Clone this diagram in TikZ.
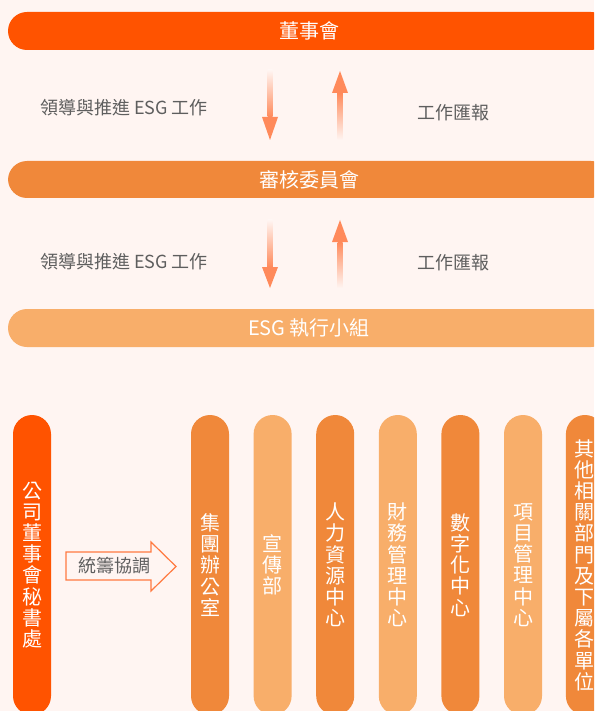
\documentclass[tikz,border=0pt]{standalone}
\usepackage{fontspec}
\setmainfont{Noto Sans CJK TC}
\usetikzlibrary{positioning}

\definecolor{bgc}{HTML}{FFF5F2}
\definecolor{deep}{HTML}{FF5300}
\definecolor{mid}{HTML}{F0883A}
\definecolor{soft}{HTML}{F8AE6A}
\definecolor{arrc}{HTML}{FF8A5B}
\definecolor{linec}{HTML}{FF7A40}
\definecolor{txtc}{HTML}{5E5E5E}

\begin{document}
\begin{tikzpicture}[x=1pt,y=-1pt,
  bar/.style={rectangle, rounded corners=19pt, minimum width=602pt,
              minimum height=38pt, inner sep=0pt, text=white,
              font=\fontsize{20}{24}\selectfont},
  column/.style={rectangle, rounded corners=19pt, minimum width=38pt,
                 minimum height=300pt, inner sep=0pt, text=white, align=center,
                 font=\fontsize{20}{21.2}\selectfont},
  lbl/.style={text=txtc, inner sep=0pt, font=\fontsize{18}{22}\selectfont}]
  \useasboundingbox (0,0) rectangle (594,711);
  \fill[bgc] (0,0) rectangle (594,711);
  \clip (0,0) rectangle (594,711);

  % three levels
  \node[bar, fill=deep] (board)  at (309,31)    {董事會};
  \node[bar, fill=mid, minimum height=37pt]
                        (audit)  at (309,179.5) {審核委員會};
  \node[bar, fill=soft] (esg)    at (309,328)   {ESG 執行小組};

  % labels between levels
  \node[lbl, anchor=west] (lead1) at (40,107.5) {領導與推進 ESG 工作};
  \node[lbl, anchor=west] (rep1)  at (417,112.5) {工作匯報};
  \node[lbl, anchor=west] (lead2) at (40,262)   {領導與推進 ESG 工作};
  \node[lbl, anchor=west] (rep2)  at (417,262.5) {工作匯報};

  % arrow points
  \coordinate (d1a) at (270,70);  \coordinate (d1b) at (270,117); \coordinate (d1c) at (270,140);
  \coordinate (u1a) at (340,140); \coordinate (u1b) at (340,93);  \coordinate (u1c) at (340,71);
  \coordinate (d2a) at (270,220); \coordinate (d2b) at (270,267); \coordinate (d2c) at (270,288);
  \coordinate (u2a) at (340,288); \coordinate (u2b) at (340,242); \coordinate (u2c) at (340,220);

  \shade[top color=bgc, bottom color=arrc] ([xshift=-2.5pt]d1a) rectangle ([xshift=2.5pt]d1b);
  \fill[arrc] ([xshift=-8pt]d1b) -- (d1c) -- ([xshift=8pt]d1b) -- cycle;
  \shade[top color=arrc, bottom color=bgc] ([xshift=-2.5pt]u1b) rectangle ([xshift=2.5pt]u1a);
  \fill[arrc] ([xshift=-8pt]u1b) -- (u1c) -- ([xshift=8pt]u1b) -- cycle;
  \shade[top color=bgc, bottom color=arrc] ([xshift=-2.5pt]d2a) rectangle ([xshift=2.5pt]d2b);
  \fill[arrc] ([xshift=-8pt]d2b) -- (d2c) -- ([xshift=8pt]d2b) -- cycle;
  \shade[top color=arrc, bottom color=bgc] ([xshift=-2.5pt]u2b) rectangle ([xshift=2.5pt]u2a);
  \fill[arrc] ([xshift=-8pt]u2b) -- (u2c) -- ([xshift=8pt]u2b) -- cycle;

  % departments
  \node[column, fill=deep] (sec)  at (32,565) {公\\司\\董\\事\\會\\秘\\書\\處};
  \node[column, fill=mid]  (off)  at (210,565) {集\\團\\辦\\公\\室};
  \node[column, fill=soft] (pub)  [right=24.2pt of off]  {宣\\傳\\部};
  \node[column, fill=mid]  (hr)   [right=24.2pt of pub]  {人\\力\\資\\源\\中\\心};
  \node[column, fill=soft] (fin)  [right=24.2pt of hr]   {財\\務\\管\\理\\中\\心};
  \node[column, fill=mid]  (dig)  [right=24.2pt of fin]  {數\\字\\化\\中\\心};
  \node[column, fill=soft] (proj) [right=24.2pt of dig]  {項\\目\\管\\理\\中\\心};
  \node[column, fill=mid]  (other) [right=23.5pt of proj]
        {其\\他\\相\\關\\部\\門\\及\\下\\屬\\各\\單\\位};

  % coordination arrow
  \draw[linec, line width=1.2pt, fill=bgc, line join=miter]
    (66,552) -- (151,552) -- (151,542) -- (176,566.5) -- (151,591) -- (151,580) -- (66,580) -- cycle;
  \node[lbl] (coord) at (114.5,566) {統籌協調};
\end{tikzpicture}
\end{document}
